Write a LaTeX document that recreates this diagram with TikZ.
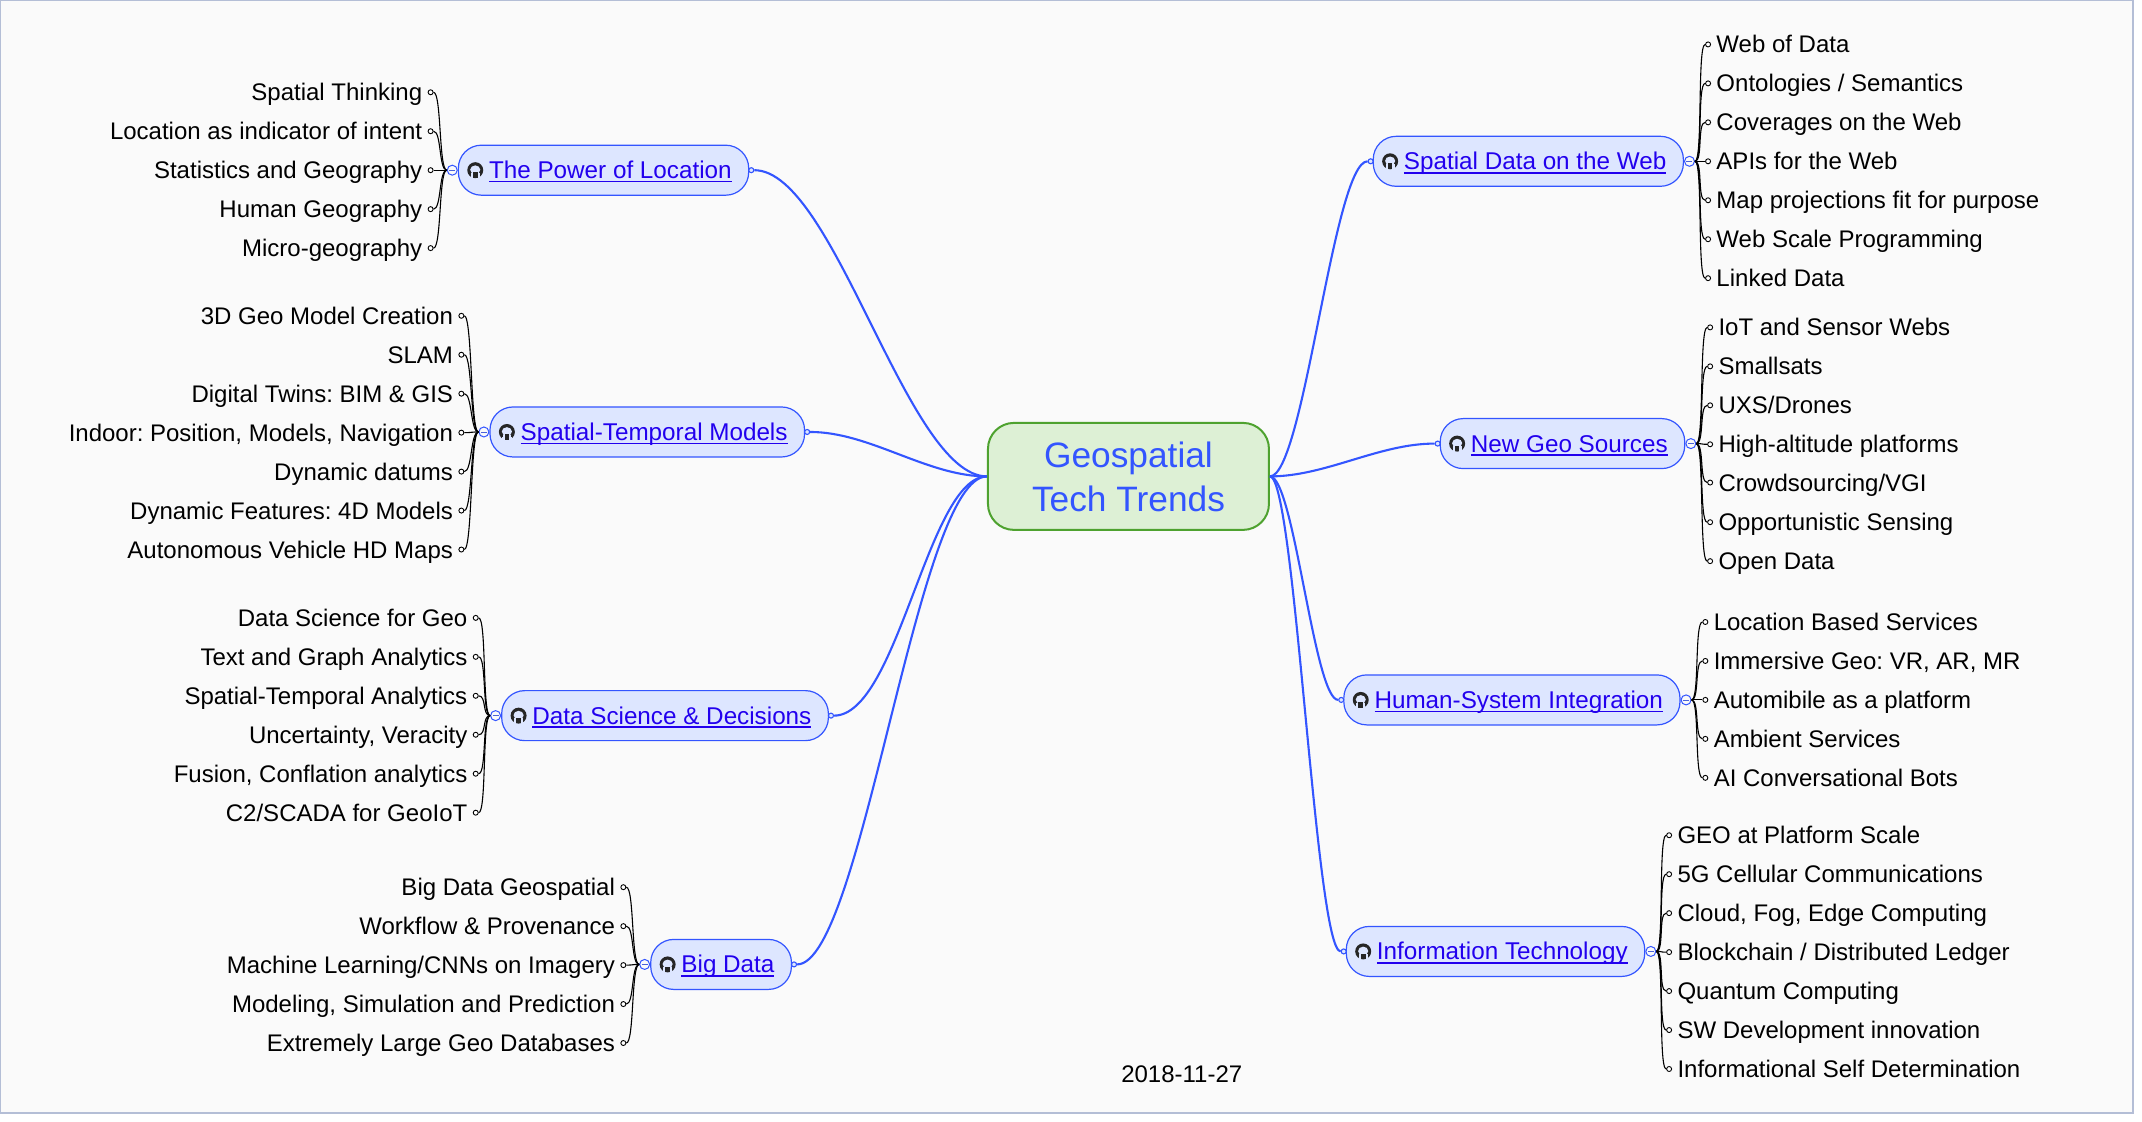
\documentclass[tikz,border=0pt]{standalone}
\usepackage{fontspec}
\setmainfont{Liberation Sans}
\definecolor{bgc}{HTML}{FAFAFA}
\definecolor{edgec}{HTML}{B4BED6}
\definecolor{bluec}{HTML}{3355FF}
\definecolor{boxc}{HTML}{DDE6FF}
\definecolor{linkc}{HTML}{2200EE}
\definecolor{rootf}{HTML}{DDF0D5}
\definecolor{rootd}{HTML}{4EA22F}
\newsavebox{\ulbox}
\newcommand{\ulk}[1]{\sbox{\ulbox}{#1}\rlap{\rule[-3.8pt]{\wd\ulbox}{1.6pt}}\usebox{\ulbox}}
\newcommand{\lfL}[4]{%
  \node[leaf,anchor=east] (#2) at (\tx,#3) {#4};
  \node[leafdot] (#2d) at (\tx+6,#3) {};
  \draw[twig] (#1) to[out=180,in=0,out distance=8pt,in distance=8pt] (#2d);}
\newcommand{\lfR}[4]{%
  \node[leaf,anchor=west] (#2) at (\tx,#3) {#4};
  \node[leafdot] (#2d) at (\tx-6,#3) {};
  \draw[twig] (#1) to[out=0,in=180,out distance=8pt,in distance=8pt] (#2d);}
\tikzset{
  x=1.367pt,y=-1.367pt,
  leaf/.style={inner sep=0pt,text height=21pt,text depth=4pt,font=\fontsize{24}{28}\selectfont\frenchspacing,text=black},
  leafdot/.style={circle,draw=black,fill=white,line width=0.9pt,inner sep=0pt,minimum size=5pt},
  twig/.style={draw=black,line width=1.1pt},
  branchbox/.style={draw=bluec,fill=boxc,line width=1.2pt,rounded corners=23pt,inner xsep=17pt,inner ysep=0pt,minimum height=50pt,text height=21pt,text depth=4pt,font=\fontsize{24.25}{28}\selectfont\frenchspacing,text=linkc},
  hubring/.style={circle,draw=bluec,fill=bgc,line width=1pt,inner sep=0pt,minimum size=10pt,path picture={\draw[bluec!70!gray,line width=0.8pt] ([xshift=-3pt]path picture bounding box.center) -- ([xshift=3pt]path picture bounding box.center);}},
  tipdot/.style={circle,draw=bluec,fill=boxc,line width=1.1pt,inner sep=0pt,minimum size=5pt},
  main/.style={draw=bluec,line width=2.1pt},
  gh/.pic={
    \fill[black!85] (0,0) circle (5.85);
    \fill[boxc] (0,-0.3) ellipse (3.7 and 3.2);
    \fill[boxc] (-3.2,2) rectangle (3.2,4.2);
    \fill[black!85] (-1.7,1.6) rectangle (1.7,5.7);
    \fill[boxc] (-3.4,4) -- (-1.7,4) -- (-1.7,6.2) -- (-3.4,6.2) -- cycle;
    \fill[boxc] (3.4,4) -- (1.7,4) -- (1.7,6.2) -- (3.4,6.2) -- cycle;
  }
}
\begin{document}
\begin{tikzpicture}
\useasboundingbox (0,0) rectangle (1566.94,820.77);
\fill[white] (0,0) rectangle (1566.94,820.77);
\draw[edgec,fill=bgc,line width=1.6pt] (0.5,0.5) rectangle (1560.4,814.2);

\node[draw=rootd,fill=rootf,line width=2pt,rounded corners=26pt,minimum width=281pt,minimum height=107pt,inner sep=0pt,align=center,text=bluec,font=\fontsize{35.3}{44}\selectfont\frenchspacing] (root) at (825.5,348.5) {Geospatial\\Tech Trends};

\node[branchbox] (pw) at (441.5,124.5) {\hspace*{13.7pt}\ulk{The Power of Location}};
\node[branchbox] (st) at (473.5,316) {\hspace*{13.7pt}\ulk{Spatial-Temporal Models}};
\node[branchbox] (ds) at (486.5,523.5) {\hspace*{13.7pt}\ulk{Data Science \& Decisions}};
\node[branchbox] (bd) at (527.5,705.5) {\hspace*{13.7pt}\ulk{Big Data}};
\node[branchbox] (wb) at (1118,118) {\hspace*{13.7pt}\ulk{Spatial Data on the Web}};
\node[branchbox] (ng) at (1143,324.5) {\hspace*{13.7pt}\ulk{New Geo Sources}};
\node[branchbox] (hs) at (1106,512) {\hspace*{13.7pt}\ulk{Human-System Integration}};
\node[branchbox] (it) at (1094,696) {\hspace*{13.7pt}\ulk{Information Technology}};

\foreach \n in {pw,st,ds,bd,wb,ng,hs,it}{\pic at ([xshift=17.5pt]\n.west) {gh};}

% tips on the root side
\node[tipdot] (pwt) at ([xshift=2pt]pw.east) {};
\node[tipdot] (stt) at ([xshift=2pt]st.east) {};
\node[tipdot] (dst) at ([xshift=2pt]ds.east) {};
\node[tipdot] (bdt) at ([xshift=2pt]bd.east) {};
\node[tipdot] (wbt) at ([xshift=-2pt]wb.west) {};
\node[tipdot] (ngt) at ([xshift=-2pt]ng.west) {};
\node[tipdot] (hst) at ([xshift=-2pt]hs.west) {};
\node[tipdot] (itt) at ([xshift=-2pt]it.west) {};

\draw[main] (root.west) to[out=180,in=0,out distance=80pt,in distance=80pt] (pwt);
\draw[main] (root.west) to[out=180,in=0,out distance=60pt,in distance=60pt] (stt);
\draw[main] (root.west) to[out=180,in=0,out distance=59pt,in distance=64pt] (dst);
\draw[main] (root.west) to[out=180,in=0,out distance=70pt,in distance=65pt] (bdt);
\draw[main] (root.east) to[out=0,in=180,out distance=34pt,in distance=34pt] (wbt);
\draw[main] (root.east) to[out=0,in=180,out distance=56pt,in distance=56pt] (ngt);
\draw[main] (root.east) to[out=0,in=180,out distance=24pt,in distance=24pt] (hst);
\draw[main] (root.east) to[out=0,in=180,out distance=25pt,in distance=25pt] (itt);

% hubs
\node[hubring] (pwr) at ([xshift=-5.5pt]pw.west) {};
\node[hubring] (str) at ([xshift=-5.5pt]st.west) {};
\node[hubring] (dsr) at ([xshift=-5.5pt]ds.west) {};
\node[hubring] (bdr) at ([xshift=-5.5pt]bd.west) {};
\node[hubring] (wbr) at ([xshift=5.5pt]wb.east) {};
\node[hubring] (ngr) at ([xshift=5.5pt]ng.east) {};
\node[hubring] (hsr) at ([xshift=5.5pt]hs.east) {};
\node[hubring] (itr) at ([xshift=5.5pt]it.east) {};
\coordinate (pwh) at (pwr.west);
\coordinate (sth) at (str.west);
\coordinate (dsh) at (dsr.west);
\coordinate (bdh) at (bdr.west);
\coordinate (wbh) at (wbr.east);
\coordinate (ngh) at (ngr.east);
\coordinate (hsh) at (hsr.east);
\coordinate (ith) at (itr.east);

\def\tx{309}
\lfL{pwh}{a1}{67.5}{Spatial Thinking}
\lfL{pwh}{a2}{96}{Location as indicator of intent}
\lfL{pwh}{a3}{124.5}{Statistics and Geography}
\lfL{pwh}{a4}{153}{Human Geography}
\lfL{pwh}{a5}{181.5}{Micro-geography}
\def\tx{331.5}
\lfL{sth}{b1}{231}{3D Geo Model Creation}
\lfL{sth}{b2}{259.5}{SLAM}
\lfL{sth}{b3}{288}{Digital Twins: BIM \& GIS}
\lfL{sth}{b4}{316.5}{Indoor: Position, Models, Navigation}
\lfL{sth}{b5}{345}{Dynamic datums}
\lfL{sth}{b6}{373.5}{Dynamic Features: 4D Models}
\lfL{sth}{b7}{402}{Autonomous Vehicle HD Maps}
\def\tx{342}
\lfL{dsh}{c1}{452}{Data Science for Geo}
\lfL{dsh}{c2}{480.5}{Text and Graph Analytics}
\lfL{dsh}{c3}{509}{Spatial-Temporal Analytics}
\lfL{dsh}{c4}{537.5}{Uncertainty, Veracity}
\lfL{dsh}{c5}{566}{Fusion, Conflation analytics}
\lfL{dsh}{c6}{594.5}{C2/SCADA for GeoIoT}
\def\tx{450}
\lfL{bdh}{d1}{649}{Big Data Geospatial}
\lfL{bdh}{d2}{677.5}{Workflow \& Provenance}
\lfL{bdh}{d3}{706}{Machine Learning/CNNs on Imagery}
\lfL{bdh}{d4}{734.5}{Modeling, Simulation and Prediction}
\lfL{bdh}{d5}{763}{Extremely Large Geo Databases}
\def\tx{1255.5}
\lfR{wbh}{e1}{32.5}{Web of Data}
\lfR{wbh}{e2}{61}{Ontologies / Semantics}
\lfR{wbh}{e3}{89.5}{Coverages on the Web}
\lfR{wbh}{e4}{118}{APIs for the Web}
\lfR{wbh}{e5}{146.5}{Map projections fit for purpose}
\lfR{wbh}{e6}{175}{Web Scale Programming}
\lfR{wbh}{e7}{203.5}{Linked Data}
\def\tx{1257}
\lfR{ngh}{f1}{239.5}{IoT and Sensor Webs}
\lfR{ngh}{f2}{268}{Smallsats}
\lfR{ngh}{f3}{296.5}{UXS/Drones}
\lfR{ngh}{f4}{325}{High-altitude platforms}
\lfR{ngh}{f5}{353}{Crowdsourcing/VGI}
\lfR{ngh}{f6}{382}{Opportunistic Sensing}
\lfR{ngh}{f7}{410.5}{Open Data}
\def\tx{1253.5}
\lfR{hsh}{g1}{455}{Location Based Services}
\lfR{hsh}{g2}{483.5}{Immersive Geo: VR, AR, MR}
\lfR{hsh}{g3}{512}{Automibile as a platform}
\lfR{hsh}{g4}{540.5}{Ambient Services}
\lfR{hsh}{g5}{569}{AI Conversational Bots}
\def\tx{1227}
\lfR{ith}{h1}{611}{GEO at Platform Scale}
\lfR{ith}{h2}{639.5}{5G Cellular Communications}
\lfR{ith}{h3}{668}{Cloud, Fog, Edge Computing}
\lfR{ith}{h4}{696.5}{Blockchain / Distributed Ledger}
\lfR{ith}{h5}{725}{Quantum Computing}
\lfR{ith}{h6}{753.5}{SW Development innovation}
\lfR{ith}{h7}{782}{Informational Self Determination}

\node[leaf] (date) at (864.5,786) {2018-11-27};
\end{tikzpicture}
\end{document}
